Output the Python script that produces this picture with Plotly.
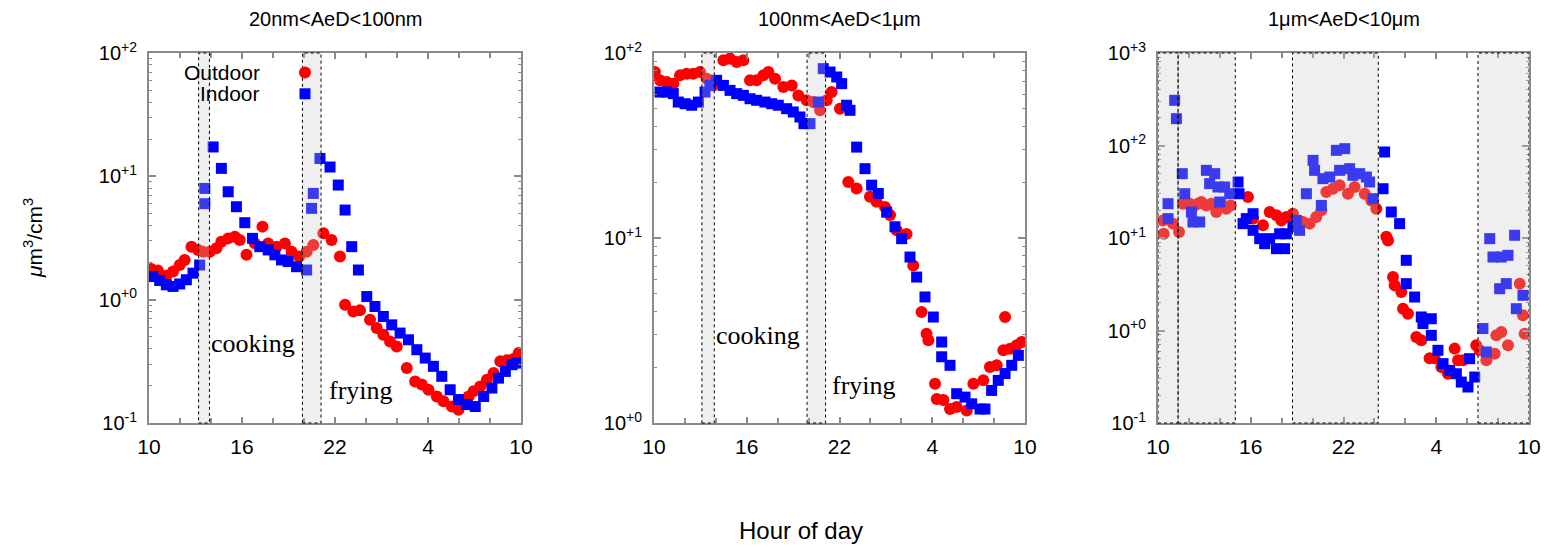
import plotly.graph_objects as go

W, H = 1549, 547

# ---------------- data ----------------
titles = ["20nm&lt;AeD&lt;100nm", "100nm&lt;AeD&lt;1μm", "1μm&lt;AeD&lt;10μm"]
x_tickvals = [10, 16, 22, 28, 34]
x_ticktext = ["10", "16", "22", "4", "10"]

# panel 1: 20nm<AeD<100nm
p1_out_h = [10.15, 10.58, 11.12, 11.55, 11.98, 12.30, 12.74, 13.17, 13.49, 13.92, 14.35, 14.67, 15.11, 15.54,
            15.86, 16.29, 16.83, 17.32, 17.69, 18.23, 18.77, 19.20, 19.69, 20.17, 20.60, 21.25, 21.78, 22.32,
            22.65, 23.18, 23.61, 24.26, 24.69, 25.12, 25.55, 25.98, 26.63, 27.17, 27.60, 28.03, 28.57, 29.00,
            29.54, 29.97, 30.62, 30.94, 31.37, 31.80, 32.23, 32.66, 33.09, 33.52, 33.85]
p1_out_v = [1.77, 1.72, 1.56, 1.69, 1.91, 2.10, 2.69, 2.53, 2.45, 2.45, 2.61, 2.95, 3.14, 3.24,
            3.05, 2.31, 2.86, 3.91, 2.86, 2.69, 2.86, 2.45, 2.24, 2.45, 2.78, 3.45, 3.05, 2.24,
            0.908, 0.80, 0.82, 0.687, 0.588, 0.519, 0.458, 0.418, 0.279, 0.217, 0.205, 0.186, 0.164, 0.150,
            0.136, 0.128, 0.164, 0.181, 0.198, 0.224, 0.254, 0.316, 0.323, 0.33, 0.369]
p1_in_h = [10.26, 10.69, 11.12, 11.55, 11.98, 12.41, 12.84, 13.27, 13.60, 13.60, 14.14, 14.67, 15.11, 15.64,
           16.18, 16.68, 17.15, 17.69, 18.12, 18.55, 18.98, 19.52, 20.17, 20.49, 20.60, 21.03, 21.68, 22.21,
           22.65, 23.08, 23.51, 24.05, 24.58, 25.12, 25.66, 26.20, 26.74, 27.28, 27.82, 28.35, 28.89, 29.43,
           29.97, 30.51, 31.05, 31.59, 32.12, 32.55, 32.99, 33.42, 33.74]
p1_in_v = [1.54, 1.43, 1.32, 1.28, 1.34, 1.45, 1.64, 1.91, 6.0, 7.98, 17.3, 11.6, 7.5, 5.67,
           4.21, 3.14, 2.69, 2.53, 2.31, 2.10, 2.04, 1.85, 1.74, 5.50, 7.27, 13.96, 11.9, 8.5,
           5.33, 2.69, 1.74, 1.06, 0.88, 0.73, 0.625, 0.536, 0.473, 0.393, 0.336, 0.288, 0.239, 0.186,
           0.155, 0.141, 0.136, 0.164, 0.192, 0.231, 0.262, 0.297, 0.306]

# panel 2: 100nm<AeD<1um
p2_out_h = [10.06, 10.39, 10.82, 11.25, 11.68, 12.11, 12.54, 12.98, 13.41, 13.84, 14.49, 14.92, 15.35, 15.78,
            16.21, 16.64, 17.07, 17.40, 17.83, 18.37, 18.91, 19.34, 19.88, 20.31, 20.74, 21.17, 21.49, 22.03,
            22.57, 23.11, 23.97, 24.40, 24.94, 25.27, 25.70, 26.34, 26.77, 27.31, 27.63, 27.75, 28.18, 28.29,
            28.72, 29.15, 29.58, 30.23, 30.66, 31.30, 31.73, 32.17, 32.60, 32.71, 33.03, 33.46, 33.78]
p2_out_v = [78.9, 71.2, 69.7, 68.3, 75.7, 77.3, 77.3, 78.9, 72.6, 66.8, 91.3, 93.2, 89.4, 91.3,
            71.2, 71.2, 75.7, 78.9, 72.6, 65.5, 66.8, 59.0, 55.5, 54.3, 49.0, 55.5, 61.5, 50.0,
            20.1, 18.5, 16.7, 15.7, 14.7, 13.3, 11.0, 10.5, 7.11, 3.98, 3.04, 2.80, 1.63, 1.35,
            1.33, 1.19, 1.22, 1.17, 1.63, 1.70, 2.01, 2.05, 2.47, 3.74, 2.52, 2.63, 2.74]
p2_in_h = [10.39, 10.82, 11.25, 11.57, 12.01, 12.44, 12.87, 13.30, 13.62, 14.05, 14.49, 14.92, 15.35, 15.78,
           16.21, 16.64, 17.18, 17.61, 18.04, 18.58, 19.01, 19.44, 19.70, 20.09, 20.63, 20.95, 21.39, 21.82,
           22.14, 22.46, 22.68, 23.11, 23.65, 24.08, 24.51, 25.05, 25.59, 26.02, 26.56, 26.99, 27.53, 28.07,
           28.61, 28.61, 29.15, 29.58, 30.12, 30.55, 31.09, 31.41, 31.84, 32.27, 32.71, 33.14, 33.57]
p2_in_v = [61.5, 61.5, 60.3, 54.3, 53.2, 52.2, 54.3, 61.5, 66.8, 71.2, 66.8, 62.8, 60.3, 59.0,
           56.6, 55.5, 54.3, 53.2, 52.2, 50.0, 48.0, 45.1, 41.5, 41.5, 54.3, 82.3, 78.9, 74.2,
           68.3, 52.2, 49.0, 31.0, 23.7, 19.3, 17.4, 13.8, 11.5, 9.92, 7.89, 6.15, 4.80, 3.74,
           2.74, 2.28, 2.05, 1.44, 1.38, 1.27, 1.19, 1.19, 1.50, 1.70, 1.85, 2.05, 2.32]

# panel 3: 1um<AeD<10um
p3_out_h = [10.32, 10.37, 10.97, 11.36, 11.62, 12.05, 12.30, 12.59, 12.80, 13.13, 13.45, 13.77, 14.10, 14.42,
            14.70, 15.82, 16.15, 16.79, 17.22, 17.66, 17.98, 18.30, 18.73, 19.38, 19.81, 20.24, 20.57, 20.89,
            21.32, 21.75, 22.29, 22.72, 23.37, 23.80, 24.12, 24.77, 24.88, 25.20, 25.31, 25.74, 25.85, 26.17,
            26.71, 27.03, 27.57, 27.90, 28.33, 28.76, 29.19, 29.41, 29.73, 30.59, 30.81, 31.24, 31.78, 31.89,
            32.21, 32.64, 33.40, 33.61, 33.72]
p3_out_v = [15.5, 11.1, 14.3, 11.6, 23.5, 23.5, 22.0, 23.5, 24.5, 22.5, 23.5, 19.1, 23.5, 20.7,
            22.5, 27.7, 16.2, 13.7, 19.1, 17.6, 15.5, 16.9, 18.3, 14.9, 14.3, 16.9, 20.0, 31.4,
            34.1, 37.1, 30.1, 35.6, 30.1, 25.5, 20.7, 10.3, 9.4, 3.79, 3.08, 2.61, 1.72, 1.52,
            0.851, 0.783, 0.50, 0.50, 0.403, 0.34, 0.637, 0.476, 0.476, 0.691, 0.61, 0.476, 0.562, 0.89,
            0.963, 0.691, 3.21, 1.46, 0.924]
p3_in_h = [10.65, 10.65, 11.08, 11.19, 11.57, 11.73, 12.16, 12.26, 12.70, 13.13, 13.34, 13.67, 13.88, 13.99,
           14.31, 14.64, 15.18, 15.24, 15.50, 15.71, 16.15, 16.15, 16.58, 16.90, 17.22, 17.66, 17.87, 18.19,
           18.30, 18.73, 18.95, 19.16, 19.60, 20.03, 20.13, 20.57, 20.67, 21.11, 21.54, 21.75, 22.08, 22.40,
           22.61, 23.05, 23.48, 23.69, 23.91, 24.56, 24.66, 25.09, 25.63, 26.06, 26.06, 26.60, 27.03, 27.14,
           27.68, 27.68, 28.11, 28.44, 28.87, 29.30, 29.62, 30.05, 30.16, 30.49, 31.02, 31.24, 31.46, 31.67,
           32.10, 32.21, 32.53, 32.64, 33.07, 33.18, 33.61]
p3_in_v = [16.2, 23.5, 308, 195, 49.6, 30.1, 19.1, 14.9, 14.9, 53.9, 38.7, 49.6, 35.6, 24.5,
           35.6, 30.1, 40.3, 30.1, 14.3, 16.2, 18.3, 12.1, 9.84, 8.69, 9.84, 7.67, 11.1, 7.67,
           11.1, 13.2, 15.5, 12.1, 30.1, 69.1, 53.9, 22.5, 43.8, 45.6, 88.7, 53.9, 92.4, 56.2,
           47.6, 49.6, 45.6, 40.3, 26.6, 34.1, 85.1, 19.1, 14.3, 5.74, 3.21, 2.30, 1.40, 1.19,
           1.34, 0.887, 0.611, 0.438, 0.371, 0.341, 0.277, 0.245, 0.496, 0.314, 1.05, 0.586, 9.84, 6.23,
           2.83, 6.23, 3.21, 6.50, 10.7, 1.72, 2.40]

# shaded activity periods (hours, 24+ = next day)
bands = [
    [(13.2, 13.9), (19.9, 21.1)],
    [(13.1, 13.9), (19.9, 21.1)],
    [(10.0, 11.3), (11.3, 15.0), (18.7, 24.25), (30.7, 34.0)],
]
band_labels = [[("cooking", 13.9), ("frying", 21.5)], [("cooking", 13.9), ("frying", 21.4)], []]

y_ranges = [(-1, 2), (0, 2), (-1, 3)]

# ---------------- layout helpers ----------------
def px(x):
    return x / W


def py(y):
    return 1 - y / H


x_domains = [(149, 521), (654, 1025), (1158, 1529)]
y_dom = [py(423), py(53)]

FONT = "Liberation Sans"
RED = "#ff0000"
BLUE = "#0000ff"
AX = "#8a8a8a"

fig = go.Figure()

series = [(p1_out_h, p1_out_v, p1_in_h, p1_in_v),
          (p2_out_h, p2_out_v, p2_in_h, p2_in_v),
          (p3_out_h, p3_out_v, p3_in_h, p3_in_v)]

for i, (oh, ov, ih, iv) in enumerate(series):
    xa = "x" if i == 0 else f"x{i+1}"
    ya = "y" if i == 0 else f"y{i+1}"
    fig.add_trace(go.Scatter(x=oh, y=ov, mode="markers", xaxis=xa, yaxis=ya,
                             name=" ", showlegend=(i == 0), legendrank=1,
                             marker=dict(symbol="circle", size=12, color=RED, opacity=1,
                                         line=dict(width=0))))
    fig.add_trace(go.Scatter(x=ih, y=iv, mode="markers", xaxis=xa, yaxis=ya,
                             name=" ", showlegend=(i == 0), legendrank=2,
                             marker=dict(symbol="square", size=11, color=BLUE, opacity=1,
                                         line=dict(width=0))))

layout = dict(width=W, height=H, margin=dict(l=0, r=0, t=0, b=0, autoexpand=False),
              paper_bgcolor="white", plot_bgcolor="white",
              font=dict(family=FONT, color="black"),
              showlegend=True,
              legend=dict(x=px(285), y=py(57), xanchor="left", yanchor="top",
                          bgcolor="rgba(0,0,0,0)", font=dict(size=14), tracegroupgap=0,
                          itemwidth=30))

shapes = []
annotations = []
for i in range(3):
    sfx = "" if i == 0 else str(i + 1)
    lo, hi = y_ranges[i]
    tickvals = [10 ** k for k in range(lo, hi + 1)]
    ticktext = [f"10<sup>{'+' if k >= 0 else '-'}{abs(k)}</sup>" for k in range(lo, hi + 1)]
    minor_vals = [m * 10 ** k for k in range(lo, hi) for m in range(2, 10)]
    layout["xaxis" + sfx] = dict(
        domain=[px(x_domains[i][0]), px(x_domains[i][1])], anchor="y" + sfx,
        range=[10, 34], tickvals=x_tickvals, ticktext=x_ticktext,
        ticks="inside", ticklen=6, tickwidth=1.5, tickcolor=AX,
        showline=True, linecolor=AX, linewidth=2, mirror="ticks",
        showgrid=False, zeroline=False, automargin=False, ticklabelstandoff=4,
        minor=dict(ticks="inside", ticklen=5, tickwidth=1.5, tickcolor=AX, dtick=2, tick0=0, showgrid=False),
        tickfont=dict(size=21, family=FONT, color="black"))
    layout["yaxis" + sfx] = dict(
        domain=y_dom, anchor="x" + sfx, type="log", range=[lo, hi],
        tickvals=tickvals, ticktext=ticktext,
        ticks="inside", ticklen=7, tickwidth=1.5, tickcolor=AX,
        showline=True, linecolor=AX, linewidth=2, mirror="ticks",
        showgrid=False, zeroline=False, ticklabelstandoff=6, automargin=False,
        minor=dict(ticks="inside", ticklen=3, tickwidth=1, tickcolor=AX, tickvals=minor_vals, showgrid=False),
        tickfont=dict(size=20, family=FONT, color="black"))
    for (a, b) in bands[i]:
        shapes.append(dict(type="rect", xref="x" + sfx, yref=f"y{sfx} domain", x0=a, x1=b, y0=0, y1=1,
                           fillcolor="rgba(200,200,200,0.29)", layer="above",
                           line=dict(color="black", width=1, dash="dot")))
    # panel title
    cx = (x_domains[i][0] + x_domains[i][1]) / 2
    annotations.append(dict(text=titles[i], x=px(cx), y=py(19), xref="paper", yref="paper",
                            xanchor="center", yanchor="middle", showarrow=False,
                            font=dict(size=20, family=FONT, color="black")))

label_y = [[343, 390], [335, 385]]
for i, labs in enumerate(band_labels):
    sfx = "" if i == 0 else str(i + 1)
    for j, (txt, hx) in enumerate(labs):
        annotations.append(dict(text=txt, x=hx, y=py(label_y[i][j]), xref="x" + sfx, yref="paper",
                                xanchor="left", yanchor="middle", showarrow=False,
                                font=dict(size=26, family="Liberation Serif", color="black")))

# legend texts (placed left of legend symbols)
annotations.append(dict(text="Outdoor", x=px(262), y=py(72), xref="paper", yref="paper",
                        xanchor="right", yanchor="middle", showarrow=False,
                        font=dict(size=21, family=FONT, color="black")))
annotations.append(dict(text="Indoor", x=px(262), y=py(93), xref="paper", yref="paper",
                        xanchor="right", yanchor="middle", showarrow=False,
                        font=dict(size=21, family=FONT, color="black")))

# axis titles
annotations.append(dict(text="<i>μ</i>m<sup>3</sup>/cm<sup>3</sup>", x=px(33), y=py(238),
                        xref="paper", yref="paper", textangle=-90, xanchor="center", yanchor="middle",
                        showarrow=False, font=dict(size=21, family=FONT, color="black")))
annotations.append(dict(text="Hour of day", x=px(801), y=py(530), xref="paper", yref="paper",
                        xanchor="center", yanchor="middle", showarrow=False,
                        font=dict(size=24, family=FONT, color="black")))

layout["shapes"] = shapes
layout["annotations"] = annotations
fig.update_layout(**layout)

fig.write_html("out.html")
